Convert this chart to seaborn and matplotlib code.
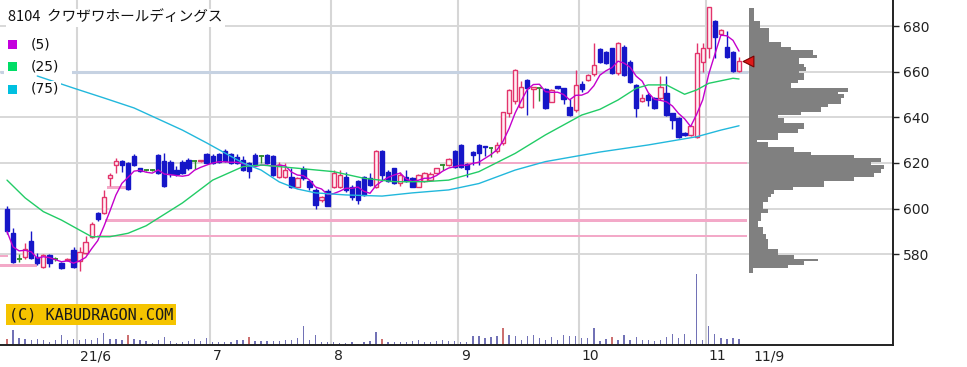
import numpy as np
import pandas as pd
import matplotlib.pyplot as plt
from matplotlib.patches import Rectangle
import seaborn as sns

# --- data ---
title = '8104  クワザワホールディングス'
ma_labels = ['(5)', '(25)', '(75)']
month_labels = ['21/6', '7', '8', '9', '10', '11']
month_first = [12, 34, 54, 75, 95, 116]   # index of first trading day of each month
last_label = '11/9'
price_ticks = [580, 600, 620, 640, 660, 680]

opens = [600, 589.5, 578, 579, 586, 579, 574.6, 579.5, 578, 576, 577.5, 582, 577, 580.5, 587.7, 598,
         598, 613.3, 619, 621, 620, 623, 617.7, 617, 617, 623.5, 621, 620.5, 617, 620.5, 621.3, 621,
         620.7, 624, 623, 624, 625.3, 624, 622.7, 621.5, 620, 623.5, 623, 623.5, 623, 614, 614, 614,
         609.6, 617.2, 612, 608.2, 603.8, 607.6, 609.6, 609.6, 614, 609.6, 612, 614, 613.3, 609.6,
         625.4, 616.2, 617.7, 611.2, 614, 613.3, 609.6, 612, 612.5, 615.4, 619.1, 619.1, 625.3, 627.9,
         619.4, 625, 628, 627.2, 626.7, 625.3, 628.6, 641.8, 647, 644.7, 656.3, 652.5, 652.7, 652.4,
         646.9, 653.4, 652.7, 644.7, 643.2, 654.5, 656.3, 658.8, 670, 668.7, 670.2, 659.3, 671, 664.4,
         654.2, 647, 649.8, 648.3, 648.3, 650.5, 641.8, 639.6, 633, 632.3, 631.5, 664.4, 670.2, 682.3,
         676.5, 671, 668.7, 660.3]
highs = [601, 591.5, 580, 585, 590, 580.5, 580, 580, 579, 576.5, 578.5, 583, 583, 588, 594, 598.5,
         608, 615.5, 622, 621.5, 620.5, 624, 618, 617.5, 617.5, 624, 624.5, 621.5, 618.5, 621.5, 622, 621.3,
         621.3, 624.5, 624, 624.5, 626, 624.5, 624, 623, 620.5, 624.5, 623.3, 624, 623.5, 620.5, 620, 618,
         614, 618.5, 612.5, 609, 605.5, 608.5, 617, 617, 616, 610.5, 612.5, 614.5, 615.4, 625.5,
         625.6, 617, 618, 616, 617, 614, 615, 616, 616, 618, 619.4, 622, 625.8, 628.3,
         619.8, 625.3, 628.3, 627.4, 627, 629, 642.5, 652.5, 661, 656, 656.6, 653.2, 653, 652.8,
         652.5, 653.6, 653, 648, 660.7, 656, 659, 672.4, 670.5, 669, 670.5, 673.1, 671.5, 665,
         654.5, 650, 650.5, 649, 658, 658, 642, 640, 633.5, 636.5, 672.4, 672.4, 688.5, 682.5,
         678.5, 678, 669, 666.6]
lows = [589, 576, 576.5, 578, 578, 575.5, 574, 574.5, 577, 573.5, 577, 574, 572.5, 580, 587, 594.5,
        597.5, 610, 615.5, 616, 608, 618.5, 616, 616.5, 616.5, 615, 609.5, 614, 614.5, 615, 617, 617.5,
        620.5, 619.5, 619.5, 620, 620.5, 619.5, 619.5, 616.5, 613.3, 618.5, 620, 619.5, 614.5, 613.5, 613.5, 609,
        609, 612.5, 608, 599.7, 603, 601, 609, 609, 607.5, 604, 602, 605.5, 610, 609,
        612, 611.5, 611, 610, 611.5, 609.5, 609.5, 611.5, 612, 615, 617, 618.5, 618, 618,
        614, 619, 619, 623, 622.8, 624.5, 628, 640, 646, 644, 641, 644, 647, 643.8,
        646.5, 652.6, 646, 640.5, 642.5, 651, 656, 658, 664, 663.5, 659, 658.5, 658, 655,
        640, 646.5, 645, 643.5, 647.5, 640.5, 634.8, 631, 632, 632, 631, 660, 665.8, 666,
        676, 666, 660, 660]
closes = [590, 576.5, 578, 582.5, 578.5, 576, 579.7, 576, 578, 574, 578, 574.6, 581, 585.5, 593.3, 595.5,
          605.3, 614.7, 621, 619, 608.5, 619, 616.3, 617, 617, 615.5, 610, 615, 615, 615.5, 617.7, 621,
          621.2, 620, 620, 620.5, 621, 620, 620, 617, 616.3, 619, 623, 620, 614.7, 619, 617, 609.6,
          613.3, 613.3, 609.6, 601.6, 605.2, 601.2, 615.4, 614.7, 608.2, 605, 604, 606, 610.4, 625.4,
          614.7, 612, 611.2, 614.7, 612, 609.6, 614.7, 615.5, 615, 617.7, 619.1, 621.6, 618.4, 618.4,
          617.4, 623.3, 624.2, 626.8, 626.7, 628, 642.2, 652, 660.7, 653.4, 652.7, 653, 652.7, 644.3,
          652, 653, 648, 641, 654.2, 652.4, 658.5, 662.9, 664.4, 663.7, 659.3, 672.7, 658.5, 655.6,
          644, 648.3, 647.6, 644, 653.2, 641, 638.8, 631.5, 632.3, 636.2, 668, 670.2, 688.2, 675.3,
          678.2, 666.6, 660.3, 664.5]
volume = [17, 44, 20, 18, 16, 17, 14, 10, 14, 30, 16, 18, 16, 18, 15, 20, 35, 18, 18, 14, 30, 18, 14, 12,
          5, 14, 25, 12, 5, 8, 12, 18, 12, 20,
          10, 8, 8, 10, 14, 16, 25, 12, 12, 12, 12, 12, 14, 14, 20, 57, 14, 30, 10, 8,
          8, 6, 6, 8, 4, 10, 12, 40, 18, 10, 8, 8, 10, 12, 16, 10, 10, 12, 16, 12, 12,
          8, 8, 26, 26, 22, 24, 26, 52, 30, 26, 14, 28, 30, 20, 14, 24, 14, 30, 26, 28,
          20, 20, 52, 12, 18, 25, 14, 30, 14, 24, 14, 14, 12, 14, 24, 34, 22, 32, 14, 212, 14,
          57, 34, 22, 18, 20, 18]
red_volume_days = [0, 20, 40, 62, 82, 100]

ma25_day = [0, 3, 6, 9, 12, 14, 17, 20, 23, 29, 34, 39, 42, 48, 54, 59, 64, 69, 73, 78, 84, 89,
            95, 98, 101, 104, 106, 109, 112, 114, 116, 120, 121]
ma25_val = [612.5, 604.7, 598.7, 595, 590.6, 587.7, 587.7, 589.2, 592.5, 602.5, 612.5, 618.4, 619.1,
            617.7, 616.2, 613.3, 611.8, 611.8, 612.5, 616.2, 624.2, 632.3, 641, 643.5, 647.6, 652.7,
            654.2, 654.2, 650.1, 652, 654.9, 657.1, 656.8]
ma75_day = [5, 11, 16, 21, 29, 33, 39, 42, 45, 48, 51, 56, 62, 67, 73, 78, 84, 89, 98, 106, 114, 118, 121]
ma75_val = [658.1, 652.8, 648.5, 644.1, 634.4, 628.8, 620.0, 616.9, 611.7, 608.6, 606.9, 606.0, 605.5,
            606.9, 608.2, 611.0, 616.9, 620.6, 624.8, 627.9, 631.5, 634.4, 636.3]

# price-by-volume profile: band edges (top to bottom) and relative volume per band
profile_edges = [688, 682, 679, 673, 671, 669.5, 667.5, 666, 663.5, 662, 660.5, 659.5, 656.5, 655, 653,
                 651, 650, 648.5, 646, 644.5, 642.5, 641, 639.5, 637.5, 635, 633, 630, 629, 627, 625,
                 623.5, 622, 620.5, 619, 617.5, 615.5, 614, 612, 609.5, 608, 606.5, 605, 603, 600, 598,
                 594.5, 592, 589, 586.5, 582.5, 579.5, 578, 577, 575.5, 574, 572]
profile_vol = [15, 34, 60, 97, 127, 192, 205, 152, 167, 172, 152, 167, 147, 127, 297, 267, 287, 277,
               237, 217, 157, 87, 107, 167, 147, 87, 25, 57, 137, 187, 317, 397, 367, 407, 397, 377,
               317, 227, 132, 77, 67, 57, 42, 57, 37, 27, 42, 52, 57, 87, 137, 207, 167, 117, 12]

# open price windows (low, high, first day, last day)
gap_low = [594.2, 587.7, 619.7, 578.6, 574.6, 608.4]
gap_high = [595.6, 588.3, 620.3, 579.6, 575.7, 609.8]
gap_from = [16.2, 14.9, 73, -1.2, -1.2, 16.5]
gap_to = [122.3, 122.3, 122.3, 0.2, 5.0, 19.8]

df = pd.DataFrame({'open': opens, 'high': highs, 'low': lows, 'close': closes, 'volume': volume})
df['day'] = np.arange(len(df))
df['ma5'] = df['close'].rolling(5, min_periods=1).mean()

sns.set_style('white')
plt.rcParams['font.family'] = ['DejaVu Sans', 'Noto Sans CJK JP']

UP_EDGE, UP_FACE = '#e3346c', '#fff0f4'
DOWN = '#1616c8'
DOJI = '#2a8a2a'
GRID = '#d6d6d6'

fig = plt.figure(figsize=(9.67, 3.67), dpi=100)
W, H = 893, 345  # plot area in pixels
ax = fig.add_axes([0, (367 - H) / 367, W / 967, H / 367])
y_lo, y_hi = 540.27, 691.39
ax.set_xlim(-1.157, 146.45)
ax.set_ylim(y_lo, y_hi)


def axp(x, y):
    # pixel position inside the plot area -> axes fraction
    return x / W, 1 - y / H


# grid
for m in month_first:
    ax.axvline(m - 0.5, color=GRID, lw=1.5, zorder=0.5)
for p in price_ticks:
    ax.axhline(p, color=GRID, lw=1.3, zorder=0.5)
ax.hlines(660, -1.2, 122.4, color='#c6d2e2', lw=2.2, zorder=0.6)

# windows
for lo, hi, a, b in zip(gap_low, gap_high, gap_from, gap_to):
    ax.fill_between([a, b], lo, hi, color='#f3a9c8', lw=0, zorder=0.8)

# white box behind the legend
ax.add_patch(Rectangle(axp(4, 98), 68 / W, 68 / H, transform=ax.transAxes,
                       facecolor='white', edgecolor='none', zorder=1))

# volume: drawn at the bottom of the price axis (one volume unit = 1/3 pixel)
yen_per_px = (y_hi - y_lo) / H
vol_colors = ['#cc7070' if d in red_volume_days else '#7272b6' for d in df['day']]
ax.bar(df['day'], df['volume'] / 3 * yen_per_px, bottom=y_lo, width=0.22,
       color=vol_colors, lw=0, zorder=1.5)

# candles
up = df[df['close'] > df['open']]
down = df[df['close'] < df['open']]
doji = df[df['close'] == df['open']]
ax.vlines(up['day'], up['low'], up['high'], color=UP_EDGE, lw=1, zorder=2)
ax.vlines(down['day'], down['low'], down['high'], color=DOWN, lw=1, zorder=2)
ax.vlines(doji['day'], doji['low'], doji['high'], color=DOJI, lw=1, zorder=2)
ax.bar(up['day'], np.maximum(up['close'] - up['open'], 0.6), bottom=up['open'], width=0.72,
       facecolor=UP_FACE, edgecolor=UP_EDGE, lw=1, zorder=3)
ax.bar(down['day'], np.maximum(down['open'] - down['close'], 0.6), bottom=down['close'], width=0.72,
       facecolor=DOWN, edgecolor=DOWN, lw=1, zorder=3)
ax.hlines(doji['close'], doji['day'] - 0.4, doji['day'] + 0.4, color=DOJI, lw=1.3, zorder=3)

# moving averages
sns.lineplot(x=df['day'], y=df['ma5'], ax=ax, color='#c400cc', lw=1, zorder=4)
sns.lineplot(x=ma25_day, y=ma25_val, ax=ax, color='#22cc66', lw=1, zorder=4)
sns.lineplot(x=ma75_day, y=ma75_val, ax=ax, color='#22b8dc', lw=1, zorder=4)

# price-by-volume profile
prof_top = np.array(profile_edges[:-1])
prof_bot = np.array(profile_edges[1:])
ax.barh(prof_bot, np.array(profile_vol) / 18.15, height=prof_top - prof_bot, left=122.6,
        align='edge', color='#808080', lw=0, zorder=2)

# last price marker
ax.scatter([122.45], [closes[-1]], marker='<', s=60, color='#dd1a1a', edgecolor='#7a0000',
           lw=0.8, zorder=6, clip_on=False)

# axes cosmetics
for side in ['top', 'left']:
    ax.spines[side].set_visible(False)
for side in ['right', 'bottom']:
    ax.spines[side].set_color('#222222')
    ax.spines[side].set_linewidth(1.4)
ax.yaxis.tick_right()
ax.set_yticks(price_ticks)
ax.set_yticklabels([str(p) for p in price_ticks], fontsize=10, color='#222222')
ax.tick_params(axis='y', direction='out', length=4, width=1, color='#222222', pad=3)
ax.set_xticks(month_first + [len(df) + 1.3])
ax.set_xticklabels(month_labels + [last_label], fontsize=10, color='#222222', ha='left')
ax.tick_params(axis='x', length=0, pad=3)
ax.set_xlabel('')
ax.set_ylabel('')

# title and legend
ax.text(*axp(8, 18), title, transform=ax.transAxes, fontsize=10.5, va='center', ha='left',
        family=['Noto Sans CJK JP', 'DejaVu Sans'], color='#111111', zorder=7,
        bbox=dict(boxstyle='square,pad=0.15', fc='white', ec='none'))
for k, (lab, col) in enumerate(zip(ma_labels, ['#c400dd', '#00dd66', '#00c0e0'])):
    yc = 44 + 22.5 * k
    ax.add_patch(Rectangle(axp(8, yc + 4.5), 9 / W, 9 / H, transform=ax.transAxes,
                           facecolor=col, edgecolor='none', zorder=7))
    ax.text(*axp(31, yc), lab, transform=ax.transAxes, fontsize=10, va='center', ha='left',
            color='#111111', zorder=7, bbox=dict(boxstyle='square,pad=0.1', fc='white', ec='none'))

ax.text(*axp(9, 314.5), '(C) KABUDRAGON.COM', transform=ax.transAxes, fontsize=11,
        family='DejaVu Sans Mono', va='center', ha='left', color='#1a1a1a', zorder=7,
        bbox=dict(boxstyle='square,pad=0.2', fc='#f5c400', ec='none'))

fig.savefig('out.png', dpi=100, facecolor='white')
